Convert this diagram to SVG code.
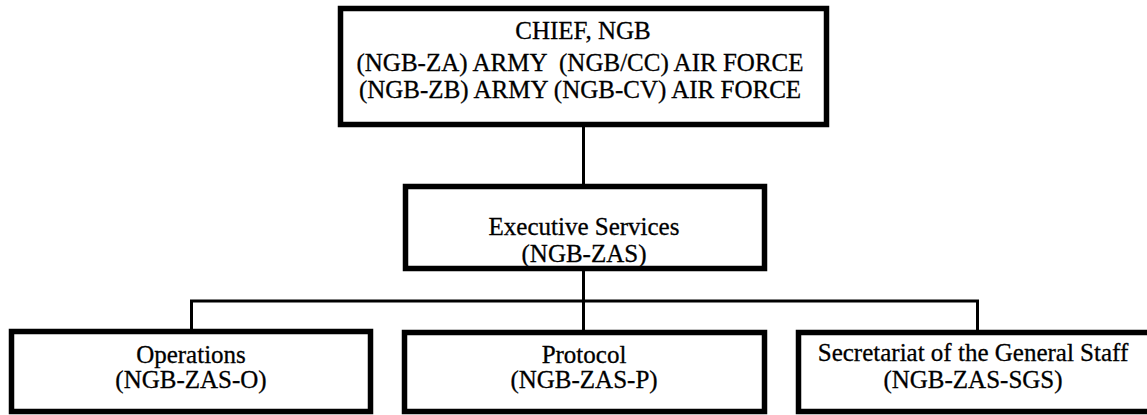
<svg xmlns="http://www.w3.org/2000/svg" width="1147" height="415" viewBox="0 0 1147 415">
<style>
.box{fill:#fff;stroke:#000;stroke-width:5.5}
.t{font-family:"Liberation Serif","Times New Roman",serif;font-size:25px;fill:#000;stroke:#000;stroke-width:0.3;text-anchor:middle}
.c{stroke:#000;stroke-width:3;fill:none}
</style>
<rect width="1147" height="415" fill="#fff"/>
<g id="connectors">
<line class="c" x1="583.5" y1="125" x2="583.5" y2="186"/>
<line class="c" x1="583.5" y1="269" x2="583.5" y2="331"/>
<polyline class="c" points="191.5,330 191.5,301 977.5,301 977.5,330"/>
</g>
<g id="chief">
<rect class="box" x="340.5" y="8.5" width="486" height="116"/>
<text class="t" x="583" y="39">CHIEF, NGB</text>
<text class="t" x="580" y="71" xml:space="preserve">(NGB-ZA) ARMY  (NGB/CC) AIR FORCE</text>
<text class="t" x="580" y="98">(NGB-ZB) ARMY (NGB-CV) AIR FORCE</text>
</g>
<g id="exec">
<rect class="box" x="405.5" y="186.5" width="359" height="82"/>
<text class="t" x="584" y="235">Executive Services</text>
<text class="t" x="584" y="262">(NGB-ZAS)</text>
</g>
<g id="ops">
<rect class="box" x="11.5" y="331.5" width="359" height="80"/>
<text class="t" x="191" y="363">Operations</text>
<text class="t" x="191" y="388">(NGB-ZAS-O)</text>
</g>
<g id="protocol">
<rect class="box" x="404.5" y="332.5" width="360" height="79"/>
<text class="t" x="584" y="363">Protocol</text>
<text class="t" x="584" y="388">(NGB-ZAS-P)</text>
</g>
<g id="sgs">
<rect class="box" x="798.5" y="332.5" width="360" height="79"/>
<text class="t" x="973" y="361">Secretariat of the General Staff</text>
<text class="t" x="973" y="388">(NGB-ZAS-SGS)</text>
</g>
</svg>
